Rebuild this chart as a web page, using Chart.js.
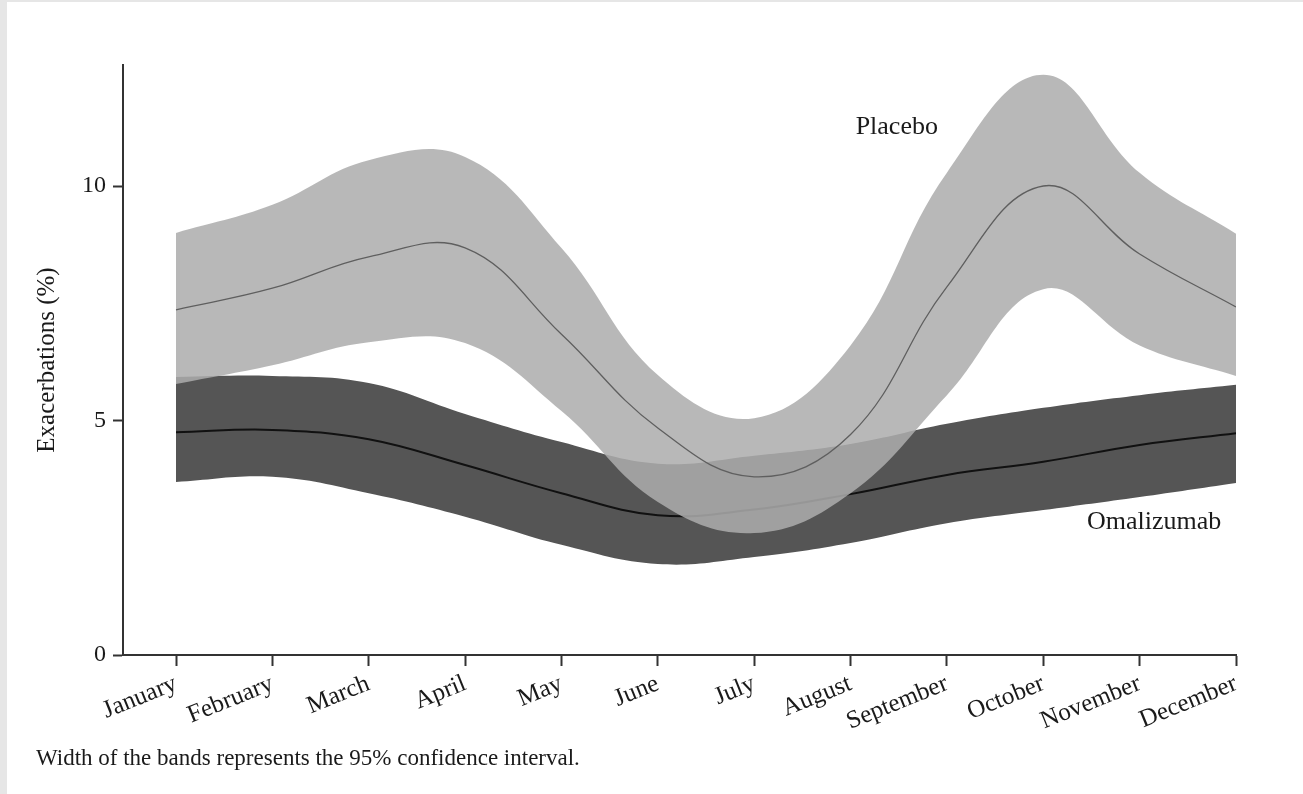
<!DOCTYPE html>
<html>
<head>
<meta charset="utf-8">
<script src="https://cdn.jsdelivr.net/npm/chart.js@4.4.1/dist/chart.umd.min.js"></script>
<style>
  html, body { margin: 0; padding: 0; background: #e6e6e6; width: 1303px; height: 794px; overflow: hidden; }
  #panel { position: absolute; left: 7px; top: 2px; width: 1296px; height: 792px; background: #ffffff; }
  #c { position: absolute; left: 0; top: 0; }
  #caption { position: absolute; left: 36px; top: 745px; font-family: "Liberation Serif", "DejaVu Serif", serif; font-size: 23px; color: #1a1a1a; white-space: nowrap; }
</style>
</head>
<body>
<div id="panel"></div>
<canvas id="c" width="1303" height="794"></canvas>
<div id="caption">Width of the bands represents the 95% confidence interval.</div>
<script>
// ---- data ----
const months = ["January","February","March","April","May","June","July","August","September","October","November","December"];
const yTickValues = [0, 5, 10];

const placeboMean  = [7.36, 7.82, 8.49, 8.68, 6.84, 4.84, 3.80, 4.70, 7.85, 10.00, 8.55, 7.42];
const placeboUpper = [9.00, 9.60, 10.55, 10.62, 8.68, 5.97, 5.05, 6.60, 10.28, 12.37, 10.28, 8.98];
const placeboLower = [5.78, 6.18, 6.67, 6.65, 5.20, 3.26, 2.60, 3.45, 5.54, 7.80, 6.60, 5.95];

const omalMean  = [4.75, 4.80, 4.60, 4.05, 3.45, 2.98, 3.10, 3.43, 3.84, 4.12, 4.48, 4.73];
const omalUpper = [5.93, 5.95, 5.80, 5.14, 4.54, 4.08, 4.25, 4.50, 4.93, 5.27, 5.54, 5.76];
const omalLower = [3.69, 3.80, 3.45, 2.95, 2.35, 1.94, 2.09, 2.39, 2.81, 3.09, 3.37, 3.67];

const seriesLabels = { placebo: "Placebo", omal: "Omalizumab" };
const labelPos = { placebo: [7.48, 11.26], omal: [10.15, 2.84] };

// ---- build ----
const toXY = arr => arr.map((v, i) => ({ x: i, y: v }));
const serif = '"Liberation Serif", "DejaVu Serif", serif';
const common = { pointRadius: 0, pointHoverRadius: 0, cubicInterpolationMode: 'default', tension: 0.4 };

const datasets = [
  // 0 placebo lower
  Object.assign({ data: toXY(placeboLower), borderWidth: 0, borderColor: 'rgba(0,0,0,0)', fill: false, order: 2 }, common),
  // 1 placebo upper (band)
  Object.assign({ data: toXY(placeboUpper), borderWidth: 0, borderColor: 'rgba(0,0,0,0)', backgroundColor: 'rgba(172,172,172,0.86)', fill: 0, order: 1 }, common),
  // 2 placebo mean
  Object.assign({ data: toXY(placeboMean), borderWidth: 1.3, borderColor: '#5f5f5f', fill: false, order: 0 }, common),
  // 3 omal lower
  Object.assign({ data: toXY(omalLower), borderWidth: 0, borderColor: 'rgba(0,0,0,0)', fill: false, order: 5 }, common),
  // 4 omal upper (band)
  Object.assign({ data: toXY(omalUpper), borderWidth: 0, borderColor: 'rgba(0,0,0,0)', backgroundColor: '#555555', fill: 3, order: 4 }, common),
  // 5 omal mean
  Object.assign({ data: toXY(omalMean), borderWidth: 2, borderColor: '#111111', fill: false, order: 3 }, common)
];

const textPlugin = {
  id: 'seriesText',
  afterDatasetsDraw(chart) {
    const { ctx, scales: { x, y } } = chart;
    ctx.save();
    ctx.font = '26px ' + serif;
    ctx.fillStyle = '#1a1a1a';
    ctx.textAlign = 'center';
    ctx.textBaseline = 'middle';
    ctx.fillText(seriesLabels.placebo, x.getPixelForValue(labelPos.placebo[0]), y.getPixelForValue(labelPos.placebo[1]));
    ctx.fillText(seriesLabels.omal, x.getPixelForValue(labelPos.omal[0]), y.getPixelForValue(labelPos.omal[1]));
    ctx.restore();
  }
};

new Chart(document.getElementById('c'), {
  type: 'line',
  data: { datasets },
  plugins: [textPlugin],
  options: {
    responsive: false,
    animation: false,
    devicePixelRatio: 1,
    layout: { padding: { left: 0, right: 67, top: 65, bottom: 0 } },
    plugins: { legend: { display: false }, tooltip: { enabled: false } },
    scales: {
      x: {
        type: 'linear',
        min: -0.55,
        max: 11,
        afterBuildTicks: s => { s.ticks = months.map((_, i) => ({ value: i })); },
        afterFit: s => { s.height = 139; },
        ticks: {
          autoSkip: false,
          minRotation: 22,
          maxRotation: 22,
          padding: 3,
          color: '#1a1a1a',
          font: { family: serif, size: 25 },
          callback: v => months[v]
        },
        grid: { drawOnChartArea: false, drawTicks: true, tickLength: 11, tickWidth: 2, color: '#333333' },
        border: { display: true, color: '#333333', width: 2 }
      },
      y: {
        type: 'linear',
        min: 0,
        max: 12.58,
        afterBuildTicks: s => { s.ticks = yTickValues.map(v => ({ value: v })); },
        afterFit: s => { s.width = 123; },
        ticks: {
          padding: 7,
          color: '#1a1a1a',
          font: { family: serif, size: 24 },
          callback: v => String(v)
        },
        grid: { drawOnChartArea: false, drawTicks: true, tickLength: 10, tickWidth: 2, color: '#333333' },
        border: { display: true, color: '#333333', width: 2 },
        title: {
          display: true,
          text: 'Exacerbations (%)',
          color: '#1a1a1a',
          font: { family: serif, size: 25 },
          padding: { top: 32, bottom: 0 }
        }
      }
    }
  }
});
</script>
</body>
</html>
